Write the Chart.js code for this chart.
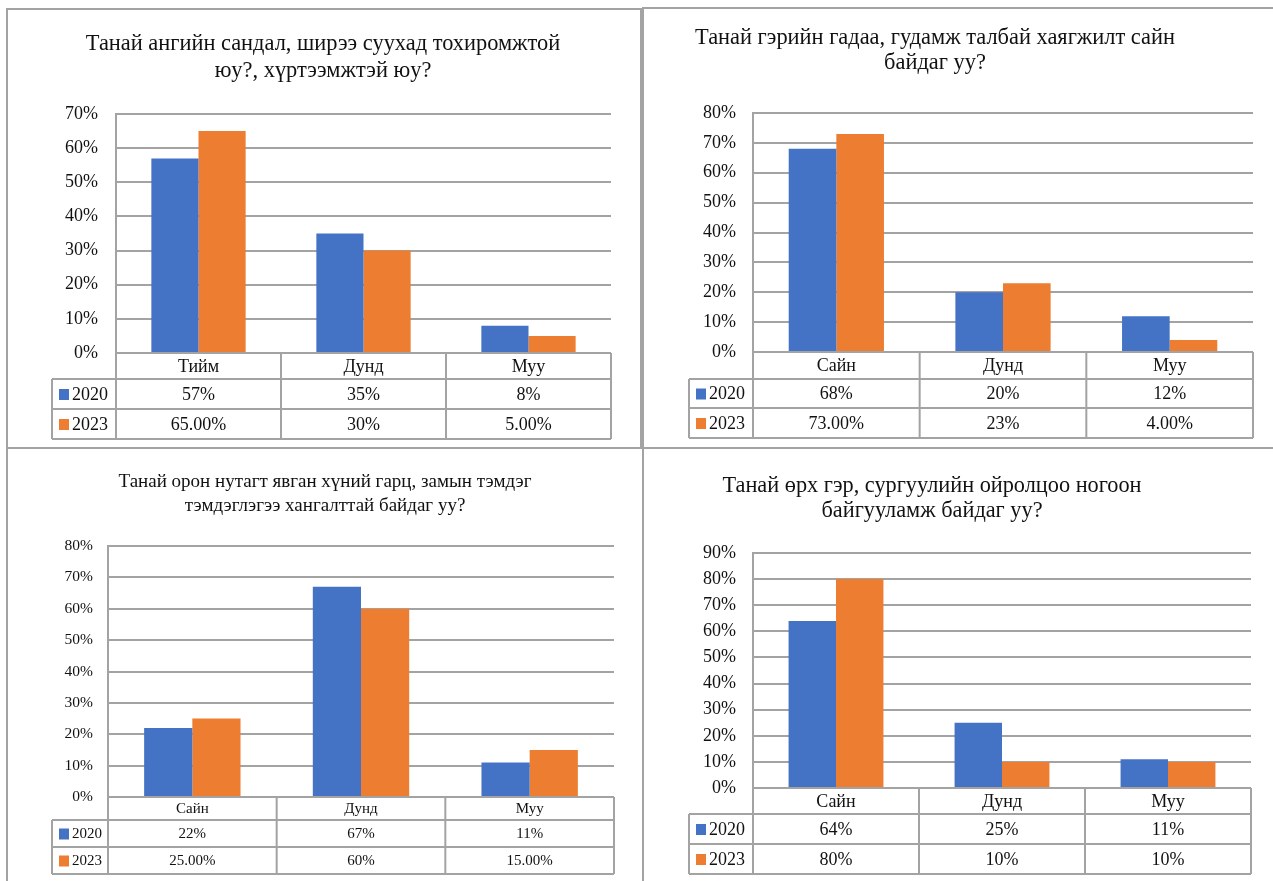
<!DOCTYPE html>
<html>
<head>
<meta charset="utf-8">
<script src="https://cdn.jsdelivr.net/npm/chart.js@4.4.1/dist/chart.umd.min.js"></script>
<style>
  body { margin: 0; background: #fff; width: 1273px; height: 881px; overflow: hidden; position: relative; }
  .frame { position: absolute; border: 2px solid #a3a3a3; box-sizing: border-box; }
  canvas { position: absolute; }
</style>
</head>
<body>
<div class="frame" style="left:6px;top:8px;width:636px;height:441px;"></div>
<div class="frame" style="left:642px;top:7px;width:700px;height:442px;"></div>
<div class="frame" style="left:6px;top:447px;width:638px;height:500px;"></div>
<div class="frame" style="left:642px;top:447px;width:700px;height:500px;"></div>
<script>
const years = ['2020', '2023'];
const catsYes = ['Тийм', 'Дунд', 'Муу'];
const catsGood = ['Сайн', 'Дунд', 'Муу'];

// 1. сандал, ширээ
const chair2020 = [57, 35, 8];
const chair2023 = [65, 30, 5];
const chairText2020 = ['57%', '35%', '8%'];
const chairText2023 = ['65.00%', '30%', '5.00%'];
const chairTicks = [0, 10, 20, 30, 40, 50, 60, 70];

// 2. гудамж талбай хаягжилт
const street2020 = [68, 20, 12];
const street2023 = [73, 23, 4];
const streetText2020 = ['68%', '20%', '12%'];
const streetText2023 = ['73.00%', '23%', '4.00%'];
const streetTicks = [0, 10, 20, 30, 40, 50, 60, 70, 80];

// 3. явган хүний гарц
const cross2020 = [22, 67, 11];
const cross2023 = [25, 60, 15];
const crossText2020 = ['22%', '67%', '11%'];
const crossText2023 = ['25.00%', '60%', '15.00%'];
const crossTicks = [0, 10, 20, 30, 40, 50, 60, 70, 80];

// 4. ногоон байгууламж
const green2020 = [64, 25, 11];
const green2023 = [80, 10, 10];
const greenText2020 = ['64%', '25%', '11%'];
const greenText2023 = ['80%', '10%', '10%'];
const greenTicks = [0, 10, 20, 30, 40, 50, 60, 70, 80, 90];

const BLUE = '#4472C4';
const ORANGE = '#ED7D31';
const LINE = '#a3a3a3';
const FONT = '"Liberation Serif", "Times New Roman", serif';

const panels = [
  {
    box: { x: 8, y: 10, w: 632, h: 437 },
    plot: { l: 116, r: 611, t: 114, b: 353 },
    rows: [353, 379, 409, 439], legendLeft: 52,
    title: ['Танай ангийн сандал, ширээ суухад тохиромжтой', 'юу?, хүртээмжтэй юу?'],
    titleX: 323, titleY: [44, 71], titleSize: 22.4,
    tickSize: 18, tickPad: 18, tableSize: 18,
    cats: catsYes, a: chair2020, b: chair2023, textA: chairText2020, textB: chairText2023, ticks: chairTicks,
  },
  {
    box: { x: 644, y: 9, w: 629, h: 438 },
    plot: { l: 753, r: 1253, t: 113, b: 352 },
    rows: [352, 379, 408, 438], legendLeft: 689,
    title: ['Танай гэрийн гадаа, гудамж талбай хаягжилт сайн', 'байдаг уу?'],
    titleX: 935, titleY: [38, 63], titleSize: 22.4,
    tickSize: 18, tickPad: 17, tableSize: 18,
    cats: catsGood, a: street2020, b: street2023, textA: streetText2020, textB: streetText2023, ticks: streetTicks,
  },
  {
    box: { x: 8, y: 450, w: 632, h: 431 },
    plot: { l: 108, r: 614, t: 546, b: 797 },
    rows: [797, 820, 847, 874], legendLeft: 52,
    title: ['Танай орон нутагт явган хүний гарц, замын тэмдэг', 'тэмдэглэгээ хангалттай байдаг уу?'],
    titleX: 325, titleY: [482, 506], titleSize: 19,
    tickSize: 15.5, tickPad: 15, tableSize: 15,
    cats: catsGood, a: cross2020, b: cross2023, textA: crossText2020, textB: crossText2023, ticks: crossTicks,
  },
  {
    box: { x: 644, y: 450, w: 629, h: 431 },
    plot: { l: 753, r: 1251, t: 553, b: 788 },
    rows: [788, 814, 844, 874], legendLeft: 689,
    title: ['Танай өрх гэр, сургуулийн ойролцоо ногоон', 'байгууламж байдаг уу?'],
    titleX: 932, titleY: [486, 511], titleSize: 22.3,
    tickSize: 18, tickPad: 17, tableSize: 18,
    cats: catsGood, a: green2020, b: green2023, textA: greenText2020, textB: greenText2023, ticks: greenTicks,
  },
];

// title drawn at fixed centre
const panelTitle = {
  id: 'panelTitle',
  afterDraw(chart, args, o) {
    const ctx = chart.ctx;
    ctx.save();
    ctx.fillStyle = '#111';
    ctx.font = o.size + 'px ' + FONT;
    ctx.textAlign = 'center';
    ctx.textBaseline = 'middle';
    o.lines.forEach((line, i) => ctx.fillText(line, o.x, o.y[i]));
    ctx.restore();
  },
};

// data table under the axis, like Excel's "data table with legend keys"
const dataTable = {
  id: 'dataTable',
  afterDraw(chart, args, o) {
    const { ctx, chartArea: a, scales: { x } } = chart;
    const n = chart.data.labels.length;
    const bounds = [a.left];
    for (let i = 1; i < n; i++) {
      bounds.push((x.getPixelForValue(i - 1) + x.getPixelForValue(i)) / 2);
    }
    bounds.push(a.right);
    const r = o.rows;

    ctx.save();
    ctx.strokeStyle = LINE;
    ctx.lineWidth = 2;
    ctx.beginPath();
    bounds.forEach((bx) => { ctx.moveTo(bx, r[0]); ctx.lineTo(bx, r[3]); });
    [r[1], r[2], r[3]].forEach((ry) => { ctx.moveTo(o.legendLeft, ry); ctx.lineTo(a.right, ry); });
    ctx.moveTo(o.legendLeft, r[1]); ctx.lineTo(o.legendLeft, r[3]);
    ctx.stroke();

    ctx.fillStyle = '#111';
    ctx.font = o.size + 'px ' + FONT;
    ctx.textAlign = 'center';
    ctx.textBaseline = 'middle';
    chart.data.labels.forEach((lab, i) => {
      const cx = x.getPixelForValue(i);
      ctx.fillText(lab, cx, (r[0] + r[1]) / 2 + 1);
      ctx.fillText(o.textA[i], cx, (r[1] + r[2]) / 2 + 1);
      ctx.fillText(o.textB[i], cx, (r[2] + r[3]) / 2 + 1);
    });

    chart.data.datasets.forEach((ds, j) => {
      const cy = (r[j + 1] + r[j + 2]) / 2;
      ctx.fillStyle = ds.backgroundColor;
      ctx.fillRect(o.legendLeft + 7, cy - 5, 10, 11);
      ctx.fillStyle = '#111';
      ctx.textAlign = 'left';
      ctx.fillText(ds.label, o.legendLeft + 20, cy + 1);
    });
    ctx.restore();
  },
};

const AXIS_W = 60;

panels.forEach((p) => {
  const canvas = document.createElement('canvas');
  canvas.width = p.box.w;
  canvas.height = p.box.h;
  canvas.style.left = p.box.x + 'px';
  canvas.style.top = p.box.y + 'px';
  document.body.appendChild(canvas);

  const ox = p.box.x;
  const oy = p.box.y;

  new Chart(canvas.getContext('2d'), {
    type: 'bar',
    data: {
      labels: p.cats,
      datasets: [
        { label: years[0], data: p.a, backgroundColor: BLUE },
        { label: years[1], data: p.b, backgroundColor: ORANGE },
      ],
    },
    options: {
      responsive: false,
      animation: false,
      events: [],
      layout: {
        padding: {
          left: p.plot.l - ox - AXIS_W,
          right: ox + p.box.w - p.plot.r,
          top: p.plot.t - oy,
          bottom: oy + p.box.h - p.plot.b,
        },
      },
      datasets: {
        bar: { categoryPercentage: 2 / 3.5, barPercentage: 1 },
      },
      scales: {
        x: { display: false },
        y: {
          min: p.ticks[0],
          max: p.ticks[p.ticks.length - 1],
          afterFit: (s) => { s.width = AXIS_W; },
          afterBuildTicks: (s) => { s.ticks = p.ticks.map((v) => ({ value: v })); },
          ticks: {
            padding: p.tickPad,
            color: '#111',
            font: { family: FONT, size: p.tickSize },
            callback: (v) => v + '%',
          },
          grid: { color: LINE, lineWidth: 2, drawTicks: false },
          border: { display: true, color: LINE, width: 2 },
        },
      },
      plugins: {
        legend: { display: false },
        title: { display: false },
        tooltip: { enabled: false },
        panelTitle: {
          lines: p.title,
          x: p.titleX - ox,
          y: p.titleY.map((v) => v - oy),
          size: p.titleSize,
        },
        dataTable: {
          rows: p.rows.map((v) => v - oy),
          legendLeft: p.legendLeft - ox,
          textA: p.textA,
          textB: p.textB,
          size: p.tableSize,
        },
      },
    },
    plugins: [panelTitle, dataTable],
  });
});
</script>
</body>
</html>
